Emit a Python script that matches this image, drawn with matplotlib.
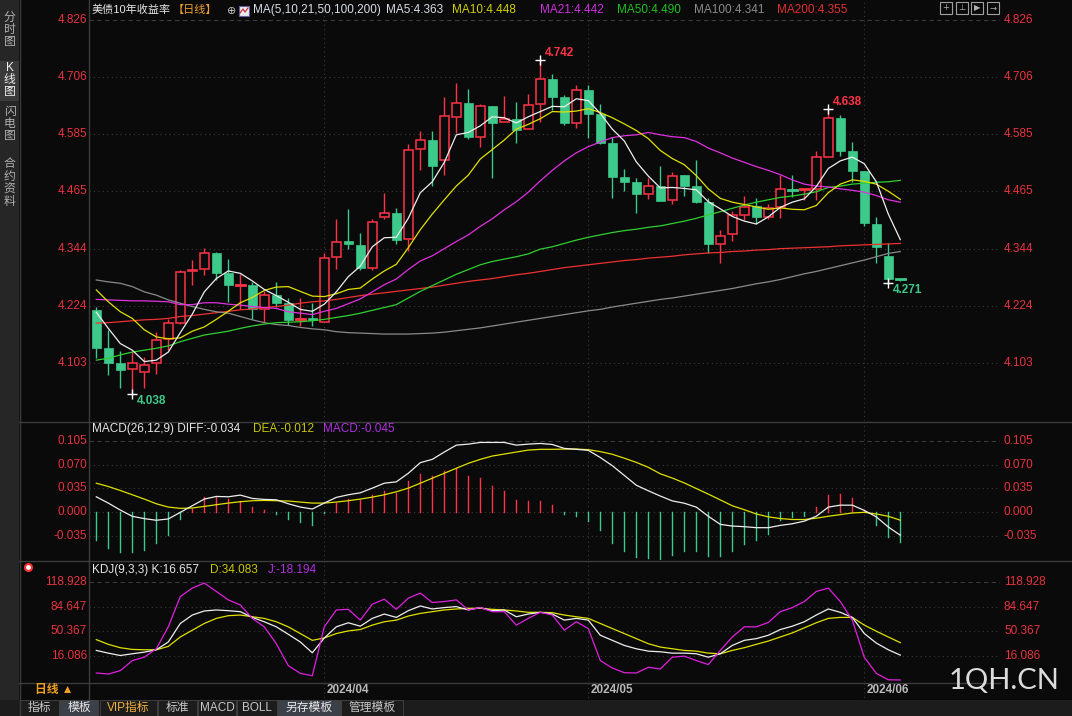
import matplotlib
matplotlib.use("Agg")
import matplotlib.pyplot as plt
from matplotlib.patches import Rectangle
from matplotlib.transforms import blended_transform_factory

plt.rcParams['font.family'] = ['Liberation Sans', 'Noto Sans CJK SC', 'DejaVu Sans']

W, H = 1072, 716

# =======================================
#   DATOS
# =======================================

opens = [4.215, 4.134, 4.103, 4.090, 4.085, 4.103, 4.153, 4.188, 4.296, 4.301,
         4.334, 4.292, 4.266, 4.267, 4.216, 4.246, 4.229, 4.193, 4.197, 4.190,
         4.326, 4.360, 4.352, 4.304, 4.411, 4.419, 4.364, 4.555, 4.573, 4.530,
         4.622, 4.652, 4.580, 4.645, 4.610, 4.617, 4.596, 4.648, 4.701, 4.663,
         4.609, 4.678, 4.628, 4.567, 4.496, 4.484, 4.459, 4.477, 4.447, 4.499,
         4.476, 4.442, 4.353, 4.374, 4.416, 4.433, 4.411, 4.431, 4.470, 4.468,
         4.469, 4.538, 4.619, 4.550, 4.508, 4.397, 4.328, 4.281]
highs = [4.222, 4.172, 4.128, 4.127, 4.115, 4.169, 4.195, 4.299, 4.320, 4.346,
         4.336, 4.322, 4.291, 4.274, 4.255, 4.273, 4.239, 4.239, 4.230, 4.334,
         4.406, 4.427, 4.378, 4.406, 4.461, 4.429, 4.565, 4.591, 4.593, 4.664,
         4.694, 4.680, 4.649, 4.645, 4.665, 4.654, 4.670, 4.742, 4.712, 4.668,
         4.690, 4.690, 4.649, 4.580, 4.512, 4.492, 4.494, 4.518, 4.505, 4.499,
         4.531, 4.451, 4.383, 4.423, 4.455, 4.450, 4.438, 4.499, 4.500, 4.470,
         4.550, 4.638, 4.626, 4.569, 4.508, 4.411, 4.355, 4.281]
lows = [4.113, 4.078, 4.051, 4.038, 4.051, 4.079, 4.130, 4.186, 4.267, 4.288,
        4.278, 4.232, 4.216, 4.195, 4.190, 4.222, 4.183, 4.182, 4.182, 4.189,
        4.302, 4.343, 4.298, 4.299, 4.406, 4.353, 4.340, 4.510, 4.476, 4.499,
        4.588, 4.575, 4.559, 4.492, 4.610, 4.566, 4.596, 4.612, 4.636, 4.605,
        4.598, 4.578, 4.564, 4.451, 4.466, 4.419, 4.449, 4.445, 4.438, 4.455,
        4.440, 4.334, 4.313, 4.361, 4.404, 4.397, 4.407, 4.408, 4.452, 4.447,
        4.447, 4.538, 4.539, 4.484, 4.392, 4.313, 4.271, 4.276]
closes = [4.134, 4.104, 4.088, 4.104, 4.098, 4.151, 4.187, 4.294, 4.299, 4.334,
          4.293, 4.267, 4.268, 4.216, 4.246, 4.230, 4.194, 4.195, 4.193, 4.324,
          4.359, 4.353, 4.304, 4.401, 4.419, 4.363, 4.553, 4.573, 4.518, 4.624,
          4.650, 4.580, 4.645, 4.609, 4.617, 4.594, 4.646, 4.701, 4.664, 4.609,
          4.678, 4.628, 4.567, 4.496, 4.485, 4.459, 4.477, 4.445, 4.498, 4.477,
          4.443, 4.353, 4.371, 4.414, 4.431, 4.411, 4.429, 4.469, 4.468, 4.470,
          4.537, 4.619, 4.550, 4.508, 4.399, 4.348, 4.280, 4.280]

ma5 = [4.210, 4.176, 4.144, 4.130, 4.106, 4.109, 4.126, 4.167, 4.206, 4.253,
       4.281, 4.297, 4.292, 4.276, 4.258, 4.245, 4.231, 4.216, 4.212, 4.227,
       4.253, 4.285, 4.307, 4.348, 4.367, 4.368, 4.408, 4.462, 4.485, 4.526,
       4.584, 4.589, 4.603, 4.622, 4.620, 4.609, 4.622, 4.633, 4.644, 4.643,
       4.660, 4.656, 4.629, 4.596, 4.571, 4.527, 4.497, 4.472, 4.473, 4.471,
       4.468, 4.443, 4.428, 4.412, 4.402, 4.396, 4.411, 4.431, 4.442, 4.449,
       4.475, 4.513, 4.529, 4.537, 4.523, 4.485, 4.417, 4.363]
ma10 = [4.257, 4.232, 4.211, 4.197, 4.173, 4.158, 4.154, 4.156, 4.170, 4.179,
        4.195, 4.212, 4.230, 4.241, 4.256, 4.263, 4.264, 4.254, 4.244, 4.243,
        4.249, 4.258, 4.261, 4.280, 4.297, 4.311, 4.346, 4.384, 4.417, 4.447,
        4.476, 4.499, 4.533, 4.553, 4.573, 4.596, 4.606, 4.618, 4.633, 4.632,
        4.634, 4.639, 4.631, 4.620, 4.607, 4.593, 4.576, 4.551, 4.534, 4.521,
        4.498, 4.470, 4.450, 4.442, 4.437, 4.432, 4.427, 4.430, 4.427, 4.426,
        4.435, 4.462, 4.480, 4.489, 4.486, 4.480, 4.465, 4.448]
ma21 = [4.237, 4.236, 4.235, 4.234, 4.234, 4.233, 4.232, 4.226, 4.226, 4.230,
        4.230, 4.227, 4.225, 4.222, 4.220, 4.218, 4.211, 4.208, 4.205, 4.212,
        4.218, 4.228, 4.238, 4.253, 4.268, 4.280, 4.300, 4.318, 4.329, 4.344,
        4.359, 4.373, 4.391, 4.407, 4.426, 4.443, 4.463, 4.487, 4.509, 4.529,
        4.546, 4.559, 4.569, 4.578, 4.582, 4.584, 4.589, 4.584, 4.580, 4.578,
        4.570, 4.556, 4.546, 4.535, 4.526, 4.517, 4.509, 4.500, 4.489, 4.480,
        4.476, 4.474, 4.470, 4.467, 4.463, 4.456, 4.447, 4.442]
ma50 = [4.109, 4.113, 4.120, 4.126, 4.130, 4.134, 4.139, 4.148, 4.155, 4.162,
        4.166, 4.170, 4.176, 4.181, 4.185, 4.188, 4.189, 4.190, 4.192, 4.195,
        4.199, 4.203, 4.208, 4.214, 4.220, 4.226, 4.240, 4.254, 4.266, 4.278,
        4.290, 4.300, 4.310, 4.317, 4.322, 4.327, 4.333, 4.343, 4.348, 4.355,
        4.362, 4.368, 4.373, 4.378, 4.382, 4.385, 4.389, 4.392, 4.397, 4.402,
        4.408, 4.415, 4.422, 4.429, 4.436, 4.442, 4.447, 4.452, 4.455, 4.459,
        4.464, 4.473, 4.476, 4.480, 4.482, 4.484, 4.485, 4.488]
ma100 = [4.278, 4.274, 4.271, 4.264, 4.253, 4.246, 4.236, 4.229, 4.222, 4.216,
         4.211, 4.208, 4.201, 4.194, 4.188, 4.184, 4.182, 4.178, 4.175, 4.173,
         4.169, 4.167, 4.166, 4.165, 4.164, 4.164, 4.164, 4.165, 4.166, 4.168,
         4.171, 4.174, 4.177, 4.181, 4.185, 4.189, 4.193, 4.197, 4.201, 4.205,
         4.209, 4.213, 4.216, 4.221, 4.225, 4.229, 4.233, 4.237, 4.240, 4.244,
         4.248, 4.252, 4.256, 4.260, 4.265, 4.270, 4.274, 4.279, 4.285, 4.291,
         4.296, 4.302, 4.308, 4.314, 4.320, 4.327, 4.334, 4.338]
ma200 = [4.187, 4.188, 4.190, 4.192, 4.194, 4.195, 4.197, 4.201, 4.203, 4.206,
         4.209, 4.212, 4.215, 4.217, 4.220, 4.222, 4.225, 4.229, 4.232, 4.234,
         4.237, 4.241, 4.245, 4.248, 4.251, 4.254, 4.257, 4.260, 4.263, 4.267,
         4.271, 4.275, 4.278, 4.281, 4.285, 4.289, 4.292, 4.296, 4.300, 4.304,
         4.307, 4.310, 4.313, 4.316, 4.319, 4.321, 4.324, 4.326, 4.328, 4.331,
         4.333, 4.335, 4.336, 4.338, 4.339, 4.341, 4.342, 4.344, 4.345, 4.346,
         4.347, 4.348, 4.350, 4.351, 4.352, 4.353, 4.354, 4.355]

diff = [0.0225, 0.0132, 0.0029, -0.0064, -0.0098, -0.0122, -0.0103, -0.0005, 0.0093, 0.0191,
        0.0230, 0.0225, 0.0250, 0.0201, 0.0186, 0.0181, 0.0122, 0.0073, 0.0044, 0.0132,
        0.0216, 0.0255, 0.0284, 0.0353, 0.0426, 0.0446, 0.0573, 0.0730, 0.0779, 0.0887,
        0.0989, 0.1004, 0.1029, 0.1029, 0.1029, 0.0989, 0.1004, 0.1014, 0.0999, 0.0941,
        0.0927, 0.0912, 0.0806, 0.0685, 0.0541, 0.0396, 0.0314, 0.0236, 0.0164, 0.0130,
        0.0072, -0.0063, -0.0183, -0.0208, -0.0217, -0.0232, -0.0232, -0.0198, -0.0174, -0.0135,
        -0.0063, 0.0072, 0.0101, 0.0101, 0.0024, -0.0072, -0.0222, -0.0343]
dea = [0.0426, 0.0377, 0.0318, 0.0255, 0.0191, 0.0122, 0.0073, 0.0054, 0.0059, 0.0083,
       0.0108, 0.0132, 0.0152, 0.0167, 0.0171, 0.0167, 0.0162, 0.0147, 0.0132, 0.0132,
       0.0147, 0.0167, 0.0191, 0.0220, 0.0255, 0.0299, 0.0353, 0.0426, 0.0500, 0.0573,
       0.0647, 0.0720, 0.0779, 0.0828, 0.0857, 0.0887, 0.0916, 0.0927, 0.0927, 0.0931,
       0.0931, 0.0922, 0.0893, 0.0854, 0.0796, 0.0734, 0.0661, 0.0565, 0.0502, 0.0430,
       0.0347, 0.0265, 0.0179, 0.0092, 0.0034, -0.0029, -0.0072, -0.0097, -0.0111, -0.0111,
       -0.0092, -0.0063, -0.0039, -0.0014, -0.0005, -0.0029, -0.0063, -0.0121]
macd_hist = [-0.0416, -0.0539, -0.0593, -0.0593, -0.0563, -0.0465, -0.0333, -0.0098, 0.0049, 0.0216,
             0.0230, 0.0196, 0.0157, 0.0069, 0.0034, -0.0034, -0.0103, -0.0152, -0.0186, -0.0020,
             0.0127, 0.0196, 0.0171, 0.0255, 0.0313, 0.0279, 0.0460, 0.0563, 0.0534, 0.0607,
             0.0647, 0.0534, 0.0505, 0.0387, 0.0304, 0.0181, 0.0157, 0.0164, 0.0101, -0.0034,
             -0.0053, -0.0135, -0.0270, -0.0458, -0.0570, -0.0666, -0.0680, -0.0690, -0.0632, -0.0579,
             -0.0579, -0.0656, -0.0652, -0.0570, -0.0473, -0.0410, -0.0323, -0.0111, -0.0068, -0.0063,
             0.0072, 0.0251, 0.0265, 0.0208, 0.0024, -0.0198, -0.0367, -0.0450]

k_vals = [23.2, 19.4, 16.1, 18.5, 20.8, 24.1, 35.0, 60.9, 72.7, 78.4,
          79.8, 78.8, 77.4, 69.4, 63.3, 56.2, 45.8, 35.0, 19.9, 40.6,
          56.2, 61.9, 57.1, 68.0, 74.1, 69.4, 78.8, 85.4, 81.2, 83.1,
          84.5, 79.8, 83.1, 78.8, 79.8, 70.3, 74.1, 76.5, 74.1, 65.6,
          68.0, 65.6, 44.4, 37.3, 30.2, 25.5, 22.2, 21.3, 19.4, 19.4,
          18.5, 13.7, 18.5, 30.2, 37.3, 39.7, 44.4, 52.4, 57.1, 63.3,
          72.7, 81.2, 76.5, 69.4, 46.8, 33.5, 24.1, 16.657]
d_vals = [38.3, 31.7, 27.0, 24.6, 24.1, 24.1, 28.8, 42.0, 51.5, 60.9,
          68.0, 71.8, 72.7, 70.3, 68.0, 63.3, 56.2, 46.8, 37.3, 40.6,
          46.8, 50.5, 52.4, 58.6, 63.3, 65.6, 71.3, 75.0, 77.4, 79.8,
          81.2, 82.1, 82.1, 80.7, 79.8, 78.4, 76.5, 76.5, 76.0, 72.7,
          70.3, 68.0, 60.9, 53.8, 46.8, 39.7, 32.6, 27.9, 25.5, 23.2,
          22.2, 19.4, 18.5, 23.2, 27.0, 31.7, 36.3, 42.0, 47.7, 54.8,
          61.9, 68.0, 69.4, 69.4, 58.6, 50.1, 42.0, 34.083]
j_vals = [-8.4, -9.8, -5.1, 9.0, 13.7, 25.5, 56.2, 98.6, 110.4, 117.5,
          105.7, 93.9, 86.8, 68.0, 56.2, 32.6, 1.9, -8.9, -12.2, 56.2,
          79.8, 80.7, 65.6, 87.8, 94.9, 80.7, 96.3, 103.4, 90.2, 91.6,
          93.9, 79.8, 83.1, 77.4, 77.4, 58.6, 68.0, 76.5, 72.7, 51.5,
          63.3, 53.8, 9.0, -1.4, -8.0, -8.4, -0.4, -2.8, 13.7, 15.2,
          9.0, 3.4, 23.2, 42.0, 56.2, 56.2, 62.3, 77.4, 83.1, 91.6,
          105.7, 110.4, 91.6, 65.6, 13.7, -8.9, -17.9, -18.194]

price_ticks = [4.826, 4.706, 4.585, 4.465, 4.344, 4.224, 4.103]
macd_ticks = [0.105, 0.070, 0.035, 0.000, -0.035]
kdj_ticks = [118.928, 84.647, 50.367, 16.086]
month_idx = [19, 41, 64]
month_labels = ["2024/04", "2024/05", "2024/06"]

# =======================================
#   ESTILO
# =======================================

BG = "#0a0a0a"
RED = "#ff3347"
GREEN = "#3cc98a"
AXRED = "#e8333f"
GRID = "#3a3a3a"
LINE = "#3c3c3c"
FS = 8.5

fig = plt.figure(figsize=(W / 100, H / 100), dpi=100, facecolor=BG)
XMIN, XMAX = (89 - 96.3) / 12, (1000 - 96.3) / 12


def add_ax(x0, y0, x1, y1, ylim):
    ax = fig.add_axes([x0 / W, 1 - y1 / H, (x1 - x0) / W, (y1 - y0) / H])
    ax.set_facecolor(BG)
    ax.set_xlim(XMIN, XMAX)
    ax.set_ylim(*ylim)
    ax.set_xticks([])
    ax.set_yticks([])
    for s in ax.spines.values():
        s.set_visible(False)
    return ax


def ftext(x, y, s, **kw):
    kw.setdefault("fontsize", FS)
    kw.setdefault("va", "center")
    return fig.text(x / W, 1 - y / H, s, **kw)


def hline(y, x0, x1, **kw):
    fig.add_artist(plt.Line2D([x0 / W, x1 / W], [1 - y / H] * 2, **kw))


def vline(x, y0, y1, **kw):
    fig.add_artist(plt.Line2D([x / W] * 2, [1 - y0 / H, 1 - y1 / H], **kw))


def side_labels(ax, ticks, fmt):
    tr = blended_transform_factory(fig.transFigure, ax.transData)
    for i, t in enumerate(ticks):
        ls = (0, (4, 3)) if i == 0 else (0, (1, 3))
        ax.axhline(t, color=GRID, lw=0.8, ls=ls)
        ax.text(87 / W, t, fmt.format(t), transform=tr, ha="right", va="center",
                color=AXRED, fontsize=FS)
        ax.text(1004 / W, t, fmt.format(t), transform=tr, ha="left", va="center",
                color=AXRED, fontsize=FS)
    for m in month_idx:
        ax.axvline(m, color=GRID, lw=0.8, ls=(0, (1, 3)))


# ---------- marcos / fondos ----------
fig.patches.append(Rectangle((0, 0), 19 / W, 1, transform=fig.transFigure,
                             facecolor="#262626", edgecolor="none"))
fig.patches.append(Rectangle((0, 0), 1, 16 / H, transform=fig.transFigure,
                             facecolor="#1c1c1c", edgecolor="none"))
hline(421.5, 19, W, color=LINE, lw=1)
hline(560.5, 19, W, color=LINE, lw=1)
hline(682.5, 19, 1000, color=LINE, lw=1)
vline(88.5, 0, 700, color=LINE, lw=1)
vline(19.5, 0, 716, color=LINE, lw=1)

# =======================================
#   PANEL PRINCIPAL (velas + MAs)
# =======================================

ax = add_ax(89, 0, 1000, 421, (4.826 - 401 / 474.4, 4.826 + 20 / 474.4))
side_labels(ax, price_ticks, "{:.3f}")

bw = 0.72
for i, (o, h, l, c) in enumerate(zip(opens, highs, lows, closes)):
    top, bot = max(o, c), min(o, c)
    if c >= o:
        ax.plot([i, i], [top, h], color=RED, lw=1, solid_capstyle="butt", zorder=3)
        ax.plot([i, i], [l, bot], color=RED, lw=1, solid_capstyle="butt", zorder=3)
        if top - bot < 0.003:
            ax.plot([i - bw / 2, i + bw / 2], [c, c], color=RED, lw=2, zorder=3)
        else:
            ax.add_patch(Rectangle((i - bw / 2, bot), bw, top - bot, facecolor=BG,
                                   edgecolor=RED, lw=1.1, zorder=3))
    else:
        ax.plot([i, i], [l, h], color=GREEN, lw=1, solid_capstyle="butt", zorder=3)
        if top - bot < 0.003:
            ax.plot([i - bw / 2, i + bw / 2], [c, c], color=GREEN, lw=2, zorder=3)
        else:
            ax.add_patch(Rectangle((i - bw / 2, bot), bw, top - bot, facecolor=GREEN,
                                   edgecolor=GREEN, lw=0.5, zorder=3))

xs = list(range(len(closes)))
ma_series = [(ma200, "#f03030"), (ma100, "#8a8a8a"), (ma50, "#30d030"),
             (ma21, "#e030e0"), (ma10, "#e0e000"), (ma5, "#eeeeee")]
for vals, col in ma_series:
    ax.plot(xs, vals, color=col, lw=0.9, zorder=4)

# extremos
i_hi, i_lo = highs.index(max(highs)), lows.index(min(lows))
i_hi2, i_lo2 = 61, 66
for idx, val, col, dy in [(i_hi, highs[i_hi], RED, 7), (i_hi2, highs[i_hi2], RED, 7),
                          (i_lo, lows[i_lo], GREEN, -7), (i_lo2, lows[i_lo2], GREEN, -7)]:
    ax.plot(idx, val, marker="+", color="white", ms=7, mew=1, zorder=5)
    ax.annotate(f"{val:.3f}", (idx, val), xytext=(5, dy), textcoords="offset pixels",
                color=col, fontsize=FS, fontweight="bold", ha="left", va="center", zorder=6)

# titulo
t_name = ftext(92, 10, "美债10年收益率", color="#e6e6e6", fontsize=8)
ax.annotate("【日线】", xy=(1, 0.5), xycoords=t_name, xytext=(1, 0), textcoords="offset pixels",
            ha="left", va="center", color="#f0a030", fontsize=8, annotation_clip=False)
ftext(227, 10.5, "⊕", color="#c0c0c0", family="DejaVu Sans", fontsize=8)
fig.patches.append(Rectangle((239 / W, 1 - 16 / H), 10 / W, 10 / H, transform=fig.transFigure,
                             facecolor="#e8e8f0", edgecolor="#6060a0", lw=0.8))
fig.add_artist(plt.Line2D([240 / W, 243 / W, 245 / W, 248 / W],
                          [1 - 13 / H, 1 - 9 / H, 1 - 12 / H, 1 - 8 / H],
                          color="#d02020", lw=0.8))
ftext(253, 10, "MA(5,10,21,50,100,200)", color="#d8dde6")
ftext(386, 10, "MA5:4.363", color="#d8dde6")
ftext(452, 10, "MA10:4.448", color="#d0d000")
ftext(540, 10, "MA21:4.442", color="#d030e0")
ftext(617, 10, "MA50:4.490", color="#20c020")
ftext(694, 10, "MA100:4.341", color="#8a8a8a")
ftext(777, 10, "MA200:4.355", color="#e03030")
icon_marks = ["+", "⊥", "▶", "→"]
for k, g in enumerate(icon_marks):
    x0 = 940 + k * 15.5
    fig.patches.append(Rectangle((x0 / W, 1 - 14 / H), 12 / W, 12 / H, transform=fig.transFigure,
                                 facecolor="none", edgecolor="#a0a0a0", lw=0.8))
    ftext(x0 + 6, 8, g, color="#b0b0b0", fontsize=6, ha="center", family="DejaVu Sans")

# =======================================
#   PANEL MACD
# =======================================

axm = add_ax(89, 422, 1000, 560, (-48 / 676, 90 / 676))
side_labels(axm, macd_ticks, "{:.3f}")
for i, v in enumerate(macd_hist):
    axm.plot([i, i], [0, v], color=RED if v >= 0 else GREEN, lw=1, zorder=3)
axm.plot(xs, dea, color="#e0e000", lw=0.9, zorder=4)
axm.plot(xs, diff, color="#eeeeee", lw=0.9, zorder=4)
ftext(92, 429, "MACD(26,12,9) DIFF:-0.034", color="#e6e6e6")
ftext(253, 429, "DEA:-0.012", color="#c8c800")
ftext(323, 429, "MACD:-0.045", color="#b030e0")

# =======================================
#   PANEL KDJ
# =======================================

axk = add_ax(89, 561, 1000, 682, (118.928 - 100 / 0.7147, 118.928 + 21 / 0.7147))
side_labels(axk, kdj_ticks, "{:.3f}")
axk.plot(xs, d_vals, color="#e0e000", lw=0.9, zorder=4)
axk.plot(xs, k_vals, color="#eeeeee", lw=0.9, zorder=4)
axk.plot(xs, j_vals, color="#e020e0", lw=0.9, zorder=4)
ftext(92, 570, "KDJ(9,3,3) K:16.657", color="#e6e6e6")
ftext(210, 570, "D:34.083", color="#c8c800")
ftext(268, 570, "J:-18.194", color="#b030e0")
fig.add_artist(plt.Line2D([28 / W], [1 - 567 / H], marker="o", ms=5, color="#ff3030",
                          mfc="white", mew=1.5, transform=fig.transFigure))

# fechas
for m, lab in zip(month_idx, month_labels):
    xp = 96.3 + 12 * m
    vline(xp, 683, 700, color=GRID, lw=0.8, ls=(0, (1, 3)))
    ftext(xp + 2, 690, lab, color="#b8b8b8", fontweight="bold")
ftext(35, 690, "日线 ▲", color="#f0a020", fontweight="bold")
ftext(949, 681, "1QH.CN", color="#dcdcdc", fontsize=21, family="Lato")

# =======================================
#   BARRA LATERAL Y PESTANAS
# =======================================

side_tabs = [("分\n时\n图", 30, False), ("K\n线\n图", 80, True),
             ("闪\n电\n图", 124, False), ("合\n约\n资\n料", 183, False)]
for txt, yc, sel in side_tabs:
    if sel:
        fig.patches.append(Rectangle((0, 1 - 101 / H), 19 / W, 40 / H, transform=fig.transFigure,
                                     facecolor="#3a3a3a", edgecolor="none"))
    ftext(9.5, yc, txt, color="#f0f0f0" if sel else "#b0b0b0", ha="center",
          linespacing=1.05, fontsize=8.5)

tabs = [("指标", 20, 59, False, "#c8c8c8"), ("模板", 60, 98, True, "#e8e8e8"),
        ("VIP指标", 100, 157, False, "#f0b040"), ("标准", 158, 197, False, "#c8c8c8"),
        ("MACD", 198, 236, False, "#c8c8c8"), ("BOLL", 237, 277, False, "#c8c8c8"),
        ("另存模板", 278, 340, True, "#e8e8e8"), ("管理模板", 341, 403, False, "#c8c8c8")]
for txt, x0, x1, sel, col in tabs:
    fig.patches.append(Rectangle((x0 / W, 0), (x1 - x0) / W, 16 / H, transform=fig.transFigure,
                                 facecolor="#3c4048" if sel else "#1c1c1c",
                                 edgecolor="#444444", lw=0.6))
    ftext((x0 + x1) / 2, 708, txt, color=col, ha="center")

fig.savefig("out.png", dpi=100, facecolor=BG)
